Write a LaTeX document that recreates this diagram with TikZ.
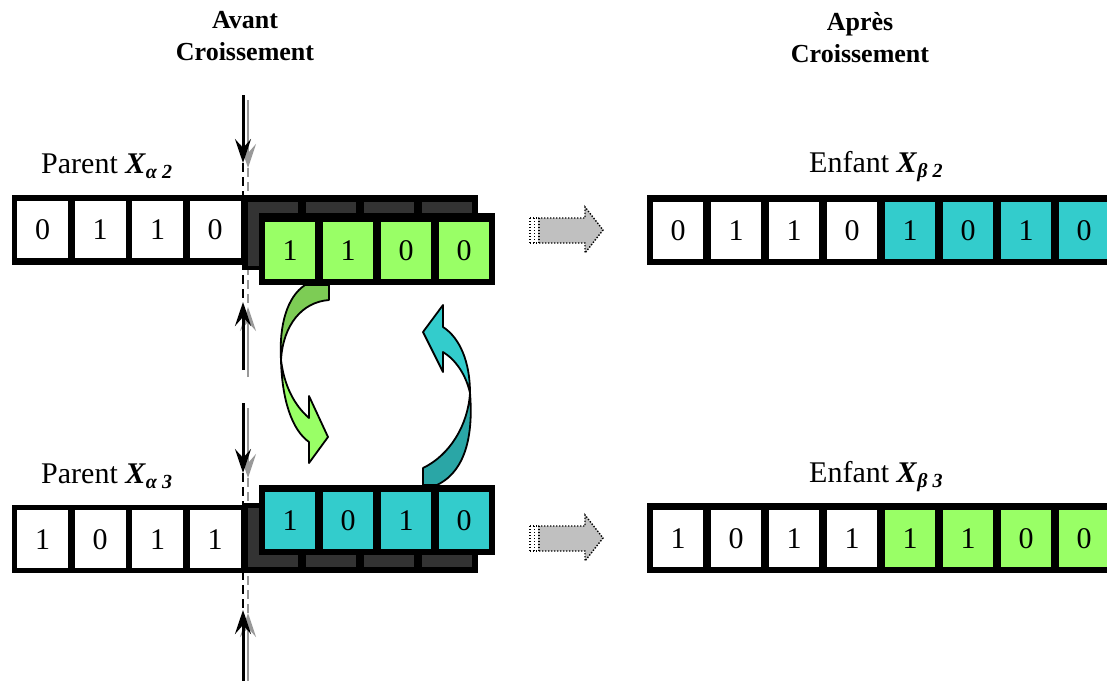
\documentclass[tikz,border=0pt]{standalone}
\usepackage{fontspec}
\setmainfont{Liberation Serif}
\usetikzlibrary{arrows.meta}
\definecolor{lgreen}{HTML}{99FF66}
\definecolor{dgreen}{HTML}{7DCC55}
\definecolor{lcyan}{HTML}{33CCCC}
\definecolor{dcyan}{HTML}{2AA6A6}
\definecolor{dblock}{HTML}{333333}
\definecolor{garrow}{HTML}{C0C0C0}
\definecolor{gline}{HTML}{999999}
\newcommand\digfont{\fontsize{30}{36}\selectfont}
\newcommand\labfont{\fontsize{30}{36}\selectfont}
\newcommand\ttlfont{\fontsize{26}{30}\selectfont\bfseries}
\newcommand\subX[2]{\textbf{\textit{X}}\raisebox{-5pt}{\fontsize{20}{24}\selectfont\bfseries\itshape #1\hspace{5pt}#2}}
\begin{document}
\begin{tikzpicture}[x=1pt,y=-1pt,
  cellL/.style={minimum width=51pt, minimum height=57pt, inner sep=0pt, anchor=north west, font=\digfont, fill=white},
  cellR/.style={minimum width=50pt, minimum height=57pt, inner sep=0pt, anchor=north west, font=\digfont},
  darkcell/.style={fill=dblock},
  blackbar/.style={fill=black},
  vline/.style={line width=3pt, black, -{Stealth[length=24pt,width=16pt,inset=9pt]}},
  gvline/.style={line width=2.4pt, gline, -{Stealth[length=24pt,width=16pt,inset=9pt]}},
  dline/.style={line width=2.5pt, black, dash pattern=on 9pt off 5pt},
  gdline/.style={line width=2pt, gline, dash pattern=on 9pt off 5pt},
  blockarr/.style={fill=garrow, draw=black, line width=1.4pt, dash pattern=on 1.4pt off 1.6pt},
  curvearr/.style={draw=black, line width=1.8pt, line join=round},
  lbl/.style={font=\labfont, inner sep=0pt, anchor=base west},
  ttl/.style={font=\ttlfont, inner sep=0pt, anchor=base}]
\useasboundingbox (0,0) rectangle (1107,680);
\clip (0,0) rectangle (1107,680);

% titles
\node[ttl] (ta1) at (245,28) {Avant};
\node[ttl] (ta2) at (245,60) {Croissement};
\node[ttl] (tb1) at (860,30) {Après};
\node[ttl] (tb2) at (860,62) {Croissement};

% labels
\node[lbl] (p2) at (41,173) {Parent \subX{α}{2}};
\node[lbl] (p3) at (41,483) {Parent \subX{α}{3}};
\node[lbl] (e2) at (809,172) {Enfant \subX{β}{2}};
\node[lbl] (e3) at (809,482) {Enfant \subX{β}{3}};

% cut line with arrows
\coordinate (a1s) at (243,95);  \coordinate (a1e) at (243,163);
\coordinate (g1s) at (248,100); \coordinate (g1e) at (248,168);
\coordinate (a2s) at (243,370); \coordinate (a2e) at (243,302);
\coordinate (g2s) at (248,377); \coordinate (g2e) at (248,307);
\coordinate (a3s) at (243,403); \coordinate (a3e) at (243,473);
\coordinate (g3s) at (248,408); \coordinate (g3e) at (248,478);
\coordinate (a4s) at (243,685); \coordinate (a4e) at (243,610);
\coordinate (g4s) at (248,690); \coordinate (g4e) at (248,613);
\draw[gdline] (g1e) -- (g2e);
\draw[dline] (a1e) -- (a2e);
\draw[gdline] (g3e) -- (g4e);
\draw[dline] (a3e) -- (a4e);
\draw[gvline] (g1s) -- (g1e);
\draw[vline] (a1s) -- (a1e);
\draw[gvline] (g2s) -- (g2e);
\draw[vline] (a2s) -- (a2e);
\draw[gvline] (g3s) -- (g3e);
\draw[vline] (a3s) -- (a3e);
\draw[gvline] (g4s) -- (g4e);
\draw[vline] (a4s) -- (a4e);

% ---------- top parent ----------
\fill[blackbar] (12,195) rectangle (248,265);
\node[cellL] (p2c1) at (17,201) {0};
\node[cellL] (p2c2) at (74.5,201) {1};
\node[cellL] (p2c3) at (132,201) {1};
\node[cellL] (p2c4) at (189.5,201) {0};
\fill[blackbar] (243,195) rectangle (478,270);
\foreach \i in {0,...,3} {\fill[darkcell] (248+58*\i,202) rectangle (298+58*\i,266);}
\fill[blackbar] (259,213) rectangle (495,285);
\node[cellR, fill=lgreen] (g1) at (265,222) {1};
\node[cellR, fill=lgreen] (g2) at (323,222) {1};
\node[cellR, fill=lgreen] (g3) at (381,222) {0};
\node[cellR, fill=lgreen] (g4) at (439,222) {0};

% ---------- bottom parent ----------
\fill[blackbar] (12,505) rectangle (248,573);
\node[cellL, minimum height=58pt] (p3c1) at (17,510) {1};
\node[cellL, minimum height=58pt] (p3c2) at (74.5,510) {0};
\node[cellL, minimum height=58pt] (p3c3) at (132,510) {1};
\node[cellL, minimum height=58pt] (p3c4) at (189.5,510) {1};
\fill[blackbar] (243,503) rectangle (478,573);
\foreach \i in {0,...,3} {\fill[darkcell] (248+58*\i,508) rectangle (298+58*\i,567);}
\fill[blackbar] (259,485) rectangle (495,555);
\node[cellR, fill=lcyan] (c1) at (265,492) {1};
\node[cellR, fill=lcyan] (c2) at (323,492) {0};
\node[cellR, fill=lcyan] (c3) at (381,492) {1};
\node[cellR, fill=lcyan] (c4) at (439,492) {0};

% ---------- children ----------
\fill[blackbar] (647,195) rectangle (1120,265);
\node[cellR, fill=white] (e2c1) at (653,202) {0};
\node[cellR, fill=white] (e2c2) at (711,202) {1};
\node[cellR, fill=white] (e2c3) at (769,202) {1};
\node[cellR, fill=white] (e2c4) at (827,202) {0};
\node[cellR, fill=lcyan] (e2c5) at (885,202) {1};
\node[cellR, fill=lcyan] (e2c6) at (943,202) {0};
\node[cellR, fill=lcyan] (e2c7) at (1001,202) {1};
\node[cellR, fill=lcyan] (e2c8) at (1059,202) {0};

\fill[blackbar] (647,503) rectangle (1120,573);
\node[cellR, fill=white] (e3c1) at (653,510) {1};
\node[cellR, fill=white] (e3c2) at (711,510) {0};
\node[cellR, fill=white] (e3c3) at (769,510) {1};
\node[cellR, fill=white] (e3c4) at (827,510) {1};
\node[cellR, fill=lgreen] (e3c5) at (885,510) {1};
\node[cellR, fill=lgreen] (e3c6) at (943,510) {1};
\node[cellR, fill=lgreen] (e3c7) at (1001,510) {0};
\node[cellR, fill=lgreen] (e3c8) at (1059,510) {0};

% ---------- gray block arrows ----------
\foreach \yc in {230,538} {
  \fill[white] (529,\yc-12) rectangle (540,\yc+13);
  \draw[blockarr] (538,\yc-12) -- (585,\yc-12) -- (585,\yc-23) -- (603,\yc) -- (585,\yc+23) -- (585,\yc+13) -- (538,\yc+13);
  \draw[blockarr, fill=none] (530,\yc-12) -- (538,\yc-12) (530,\yc+13) -- (538,\yc+13);
  \draw[blockarr, fill=none] (530,\yc-12) -- (530,\yc+13);
  \draw[blockarr, fill=none] (534.5,\yc-12) -- (534.5,\yc+13);
  \draw[blockarr, fill=none] (539,\yc-12) -- (539,\yc+13);
}

% ---------- curved arrows ----------
% green (top block -> bottom)
\filldraw[curvearr, fill=dgreen] (305,285) -- (329,285) -- (329,300)
  .. controls (302,302) and (283,325) .. (281,360)
  .. controls (279,325) and (287,297) .. (305,285) -- cycle;
\filldraw[curvearr, fill=lgreen] (281,360)
  .. controls (282,400) and (292,430) .. (309,442)
  -- (309,463) -- (328,437) -- (309,396) -- (309,418)
  .. controls (294,405) and (284,385) .. (281,360) -- cycle;
% cyan (bottom block -> top)
\filldraw[curvearr, fill=dcyan] (423,485) -- (423,468)
  .. controls (450,455) and (468,425) .. (470,393)
  .. controls (473,430) and (468,470) .. (437,485) -- cycle;
\filldraw[curvearr, fill=lcyan] (470,393)
  .. controls (470,362) and (460,338) .. (443,327)
  -- (443,305) -- (423,332) -- (443,372) -- (443,352)
  .. controls (456,360) and (466,375) .. (470,393) -- cycle;
\end{tikzpicture}
\end{document}
